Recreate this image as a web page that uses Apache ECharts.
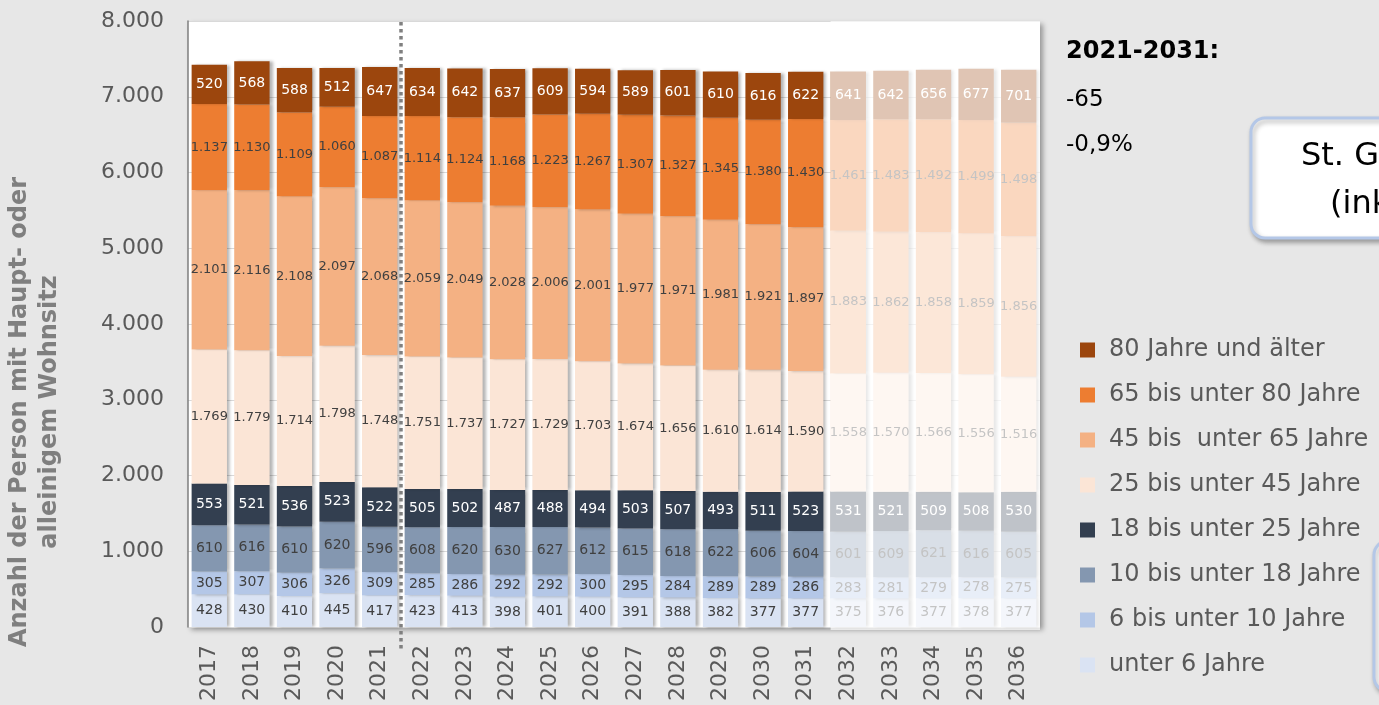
<!DOCTYPE html>
<html>
<head>
<meta charset="utf-8">
<script src="https://cdn.jsdelivr.net/npm/echarts@6/dist/echarts.min.js"></script>
<style>
  html, body { margin: 0; padding: 0; background: #e7e7e7; }
  #chart { width: 1379px; height: 705px; }
</style>
</head>
<body>
<div id="chart"></div>
<script>
// years and age groups (bottom of the stack first)
const years = ["2017", "2018", "2019", "2020", "2021", "2022", "2023", "2024", "2025", "2026",
  "2027", "2028", "2029", "2030", "2031", "2032", "2033", "2034", "2035", "2036"];

const unter6 = [428, 430, 410, 445, 417, 423, 413, 398, 401, 400, 391, 388, 382, 377, 377, 375, 376, 377, 378, 377];
const bis10 = [305, 307, 306, 326, 309, 285, 286, 292, 292, 300, 295, 284, 289, 289, 286, 283, 281, 279, 278, 275];
const bis18 = [610, 616, 610, 620, 596, 608, 620, 630, 627, 612, 615, 618, 622, 606, 604, 601, 609, 621, 616, 605];
const bis25 = [553, 521, 536, 523, 522, 505, 502, 487, 488, 494, 503, 507, 493, 511, 523, 531, 521, 509, 508, 530];
const bis45 = [1769, 1779, 1714, 1798, 1748, 1751, 1737, 1727, 1729, 1703, 1674, 1656, 1610, 1614, 1590, 1558, 1570, 1566, 1556, 1516];
const bis65 = [2101, 2116, 2108, 2097, 2068, 2059, 2049, 2028, 2006, 2001, 1977, 1971, 1981, 1921, 1897, 1883, 1862, 1858, 1859, 1856];
const bis80 = [1137, 1130, 1109, 1060, 1087, 1114, 1124, 1168, 1223, 1267, 1307, 1327, 1345, 1380, 1430, 1461, 1483, 1492, 1499, 1498];
const ab80 = [520, 568, 588, 512, 647, 634, 642, 637, 609, 594, 589, 601, 610, 616, 622, 641, 642, 656, 677, 701];

const yTicks = [0, 1000, 2000, 3000, 4000, 5000, 6000, 7000, 8000];
const summaryLines = ["2021-2031:", "-65", "-0,9%"];

// German thousands separator
const fmt = (v) => String(v).replace(/\B(?=(\d{3})+(?!\d))/g, ".");

const groups = [
  { name: "unter 6 Jahre", data: unter6, color: "#dae3f3", text: "#404040", size: 14 },
  { name: "6 bis unter 10 Jahre", data: bis10, color: "#b4c7e7", text: "#404040", size: 14 },
  { name: "10 bis unter 18 Jahre", data: bis18, color: "#8497b0", text: "#404040", size: 14 },
  { name: "18 bis unter 25 Jahre", data: bis25, color: "#333f50", text: "#ffffff", size: 14 },
  { name: "25 bis unter 45 Jahre", data: bis45, color: "#fbe5d6", text: "#404040", size: 13 },
  { name: "45 bis  unter 65 Jahre", data: bis65, color: "#f4b183", text: "#404040", size: 13 },
  { name: "65 bis unter 80 Jahre", data: bis80, color: "#ed7d31", text: "#404040", size: 13 },
  { name: "80 Jahre und älter", data: ab80, color: "#9c460d", text: "#ffffff", size: 14 },
];

const chart = echarts.init(document.getElementById("chart"));

const option = {
  backgroundColor: "#e7e7e7",
  animation: false,
  grid: {
    left: 188, right: 339, top: 21, bottom: 78,
    show: true,
    backgroundColor: "#ffffff",
    borderWidth: 0,
    shadowColor: "rgba(0,0,0,0.35)",
    shadowBlur: 5,
    shadowOffsetX: 3,
    shadowOffsetY: 3,
  },
  legend: {
    orient: "vertical",
    left: 1075,
    top: 333,
    itemWidth: 15,
    itemHeight: 15,
    itemGap: 21,
    icon: "rect",
    data: groups.map((g) => g.name).reverse(),
    textStyle: {
      color: "#595959", fontSize: 24, lineHeight: 23,
      fontFamily: "DejaVu Sans", padding: [0, 0, 0, 9],
    },
  },
  xAxis: {
    type: "category",
    data: years,
    axisLine: { show: false },
    axisTick: { show: false },
    axisLabel: {
      rotate: 90,
      margin: 18,
      color: "#595959",
      fontSize: 22,
      fontFamily: "DejaVu Sans",
    },
  },
  yAxis: {
    type: "value",
    min: yTicks[0],
    max: yTicks[yTicks.length - 1],
    interval: 1000,
    axisLine: { show: true, lineStyle: { color: "#7f7f7f", width: 1.5 } },
    axisTick: { show: false },
    splitLine: { lineStyle: { color: "#d9d9d9" } },
    axisLabel: {
      margin: 24,
      color: "#595959",
      fontSize: 22,
      fontFamily: "DejaVu Sans",
      formatter: (v) => fmt(v),
    },
  },
  series: groups.map((g) => ({
    name: g.name,
    type: "bar",
    stack: "total",
    data: g.data,
    barCategoryGap: "17%",
    itemStyle: {
      color: g.color,
      shadowColor: "rgba(0,0,0,0.3)",
      shadowBlur: 3,
      shadowOffsetX: 3,
    },
    label: {
      show: true,
      position: "inside",
      color: g.text,
      fontSize: g.size,
      fontFamily: "DejaVu Sans",
      formatter: (p) => fmt(p.value),
    },
  })),
};

chart.setOption(option);

// decorations placed from the axes
const plotRight = 1379 - 339;
const plotBottom = 705 - 78;
const x2021 = chart.convertToPixel({ xAxisIndex: 0 }, "2021");
const x2022 = chart.convertToPixel({ xAxisIndex: 0 }, "2022");
const x2032 = chart.convertToPixel({ xAxisIndex: 0 }, "2032");
const step = x2022 - x2021;
const sepX = (x2021 + x2022) / 2;
const fadeLeft = x2032 - step * 0.83 / 2;

chart.setOption({
  graphic: [
    {
      type: "rect",
      z: 100,
      shape: { x: fadeLeft, y: 21, width: plotRight - fadeLeft, height: plotBottom - 21 + 3 },
      style: { fill: "rgba(255,255,255,0.69)" },
    },
    {
      type: "line",
      z: 101,
      shape: { x1: sepX, y1: 22, x2: sepX, y2: 650 },
      style: { stroke: "#808080", lineWidth: 3.5, lineDash: [3.5, 3.5] },
    },
    {
      type: "text",
      x: 35,
      y: 412,
      rotation: Math.PI / 2,
      style: {
        text: "Anzahl der Person mit Haupt- oder\nalleinigem Wohnsitz",
        fill: "#7f7f7f",
        font: "bold 24px 'DejaVu Sans'",
        lineHeight: 30,
        textAlign: "center",
        textVerticalAlign: "middle",
      },
    },
    {
      type: "text",
      x: 1066, y: 52,
      style: { text: summaryLines[0], fill: "#000", font: "bold 24px 'DejaVu Sans'", textVerticalAlign: "middle" },
    },
    {
      type: "text",
      x: 1066, y: 100,
      style: { text: summaryLines[1], fill: "#000", font: "23px 'DejaVu Sans'", textVerticalAlign: "middle" },
    },
    {
      type: "text",
      x: 1066, y: 145,
      style: { text: summaryLines[2], fill: "#000", font: "23px 'DejaVu Sans'", textVerticalAlign: "middle" },
    },
    {
      type: "rect",
      shape: { x: 1251, y: 118, width: 200, height: 120, r: 14 },
      style: {
        fill: "#ffffff", stroke: "#b4c7e7", lineWidth: 3,
        shadowColor: "rgba(0,0,0,0.3)", shadowBlur: 5, shadowOffsetX: 2, shadowOffsetY: 3,
      },
    },
    {
      type: "text",
      x: 1301, y: 157,
      style: { text: "St. Georgen", fill: "#000", font: "32px 'DejaVu Sans'", textVerticalAlign: "middle" },
    },
    {
      type: "text",
      x: 1330, y: 205,
      style: { text: "(inkl.", fill: "#000", font: "32px 'DejaVu Sans'", textVerticalAlign: "middle" },
    },
    {
      type: "rect",
      shape: { x: 1374, y: 541, width: 100, height: 150, r: 14 },
      style: {
        fill: "#ffffff", stroke: "#b4c7e7", lineWidth: 3,
        shadowColor: "rgba(0,0,0,0.3)", shadowBlur: 5, shadowOffsetX: 2, shadowOffsetY: 3,
      },
    },
  ],
});
</script>
</body>
</html>
